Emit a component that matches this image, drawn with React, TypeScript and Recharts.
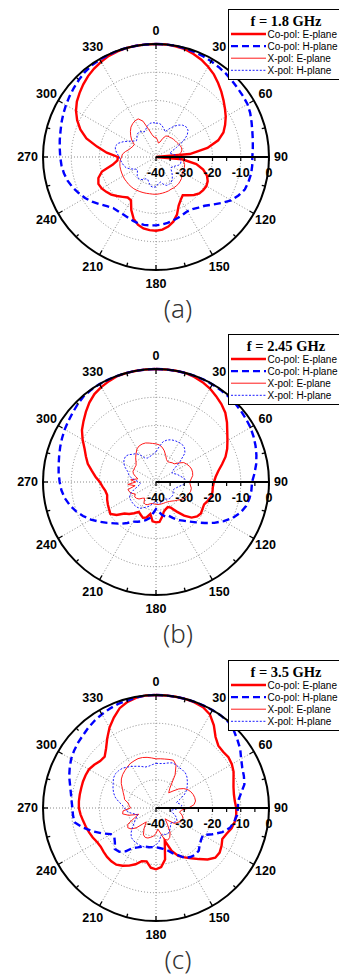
import React from 'react';
import { RadarChart, Radar, PolarGrid, PolarAngleAxis, PolarRadiusAxis } from 'recharts';

// measurement angles in degrees, clockwise from boresight
const ANGLES = [
  0, 5, 10, 15, 20, 25, 30, 35, 40, 45, 50, 55,
  60, 65, 70, 75, 80, 85, 90, 95, 100, 105, 110, 115,
  120, 125, 130, 135, 140, 145, 150, 155, 160, 165, 170, 175,
  180, 185, 190, 195, 200, 205, 210, 215, 220, 225, 230, 235,
  240, 245, 250, 255, 260, 265, 270, 275, 280, 285, 290, 295,
  300, 305, 310, 315, 320, 325, 330, 335, 340, 345, 350, 355,
];

const ANGLE_TICKS = [0, 15, 30, 45, 60, 75, 90, 105, 120, 135, 150, 165, 180, 195, 210, 225, 240, 255, 270, 285, 300, 315, 330, 345];
const SPOKES = [0, 30, 60, 90, 120, 150, 180, 210, 240, 270, 300, 330];
const RADIUS_TICKS = [-40, -30, -20, -10, 0];

const SERIES_NAMES = ['Co-pol: E-plane', 'Co-pol: H-plane', 'X-pol: E-plane', 'X-pol: H-plane'];
const FREQ_LABELS = ['f = 1.8 GHz', 'f = 2.45 GHz', 'f = 3.5 GHz'];
const CAPTIONS = ['(a)', '(b)', '(c)'];

// normalized gain, dB — 1.8 GHz
const CO_E_18 = [
  0, 0, -0.2, -0.5, -1.2, -2.0, -3.1, -4.3, -5.8, -7.3, -8.8, -10.2,
  -11.5, -13.0, -14.6, -17.2, -21.5, -28.0, -40, -30.7, -25.5, -22.7, -20.8, -19.8,
  -19.4, -19.6, -20.0, -21.0, -22.3, -23.5, -22.5, -21.0, -18.3, -16.3, -15.0, -14.2,
  -13.9, -14.0, -14.3, -15.2, -16.8, -19.3, -22.3, -22.5, -21.6, -20.5, -19.3, -18.5,
  -17.8, -17.5, -18.3, -20.2, -24.5, -26.3, -26.5, -22.5, -18.8, -14.5, -11.5, -9.2,
  -7.3, -5.8, -4.7, -3.6, -2.6, -1.8, -1.1, -0.5, -0.2, 0, 0, 0,
];
const CO_H_18 = [
  0, 0, 0, -0.2, -0.4, -0.6, -0.9, -1.2, -1.5, -1.9, -2.2, -2.4,
  -2.6, -3.2, -4.0, -4.7, -5.2, -5.6, -5.9, -5.8, -5.8, -6.1, -6.5, -7.8,
  -9.3, -11.6, -13.8, -15.6, -16.6, -17.5, -17.8, -17.5, -17.1, -16.7, -16.3, -16.0,
  -15.8, -15.7, -15.6, -15.7, -16.0, -16.4, -16.6, -16.6, -16.4, -15.4, -14.0, -12.4,
  -11.0, -9.8, -8.6, -7.6, -6.9, -6.4, -6.1, -5.8, -5.4, -5.0, -4.4, -3.8,
  -3.2, -2.6, -2.0, -1.4, -0.8, -0.4, -0.2, -0.1, 0, 0, 0, 0,
];
const X_E_18 = [
  -33, -34, -35, -34.5, -33, -31.8, -31.5, -31.5, -31.3, -31.2, -31.1, -31,
  -30.8, -30.5, -30.4, -30.5, -31, -32, -31, -30.5, -30, -29.5, -29.3, -29.2,
  -29.2, -28.8, -28.2, -27.9, -27.6, -27.5, -27.4, -27.4, -27.2, -27.1, -27.0, -26.9,
  -26.8, -26.8, -26.8, -26.7, -26.6, -26.5, -26.4, -26.3, -26.3, -26.3, -26.4, -26.4,
  -26.5, -26.6, -26.7, -26.8, -27, -27.3, -27.8, -28.1, -29, -30, -30.6, -31,
  -31.1, -29.5, -28.3, -27.2, -26.2, -25.6, -25.2, -25.1, -26.5, -29.8, -32, -33,
];
const X_H_18 = [
  -28, -28, -28.5, -29.5, -30.5, -29, -27.5, -26.2, -25.3, -24.9, -25.2, -26.5,
  -29, -32, -34, -35, -34, -33, -32, -31.5, -31, -31, -31.5, -32.5,
  -33, -33.5, -33, -32, -31, -30, -29.5, -29.2, -29.3, -30, -31, -30.5,
  -29.5, -29.2, -29.5, -30.5, -31.5, -31.5, -30.8, -30.3, -30.2, -30.6, -31.4, -32,
  -31.5, -30, -28.8, -28.2, -27.8, -27.4, -27, -26.2, -25.4, -25.1, -25.8, -27.2,
  -28.8, -30.2, -31, -30.5, -29.6, -29.3, -29.6, -30.2, -29.5, -28.5, -27.9, -27.8,
];

// 2.45 GHz
const CO_E_245 = [
  0, 0, 0, 0, -0.4, -1.0, -1.8, -2.9, -4.0, -5.3, -7.2, -9.2,
  -10.8, -12.2, -13.8, -15.8, -17.6, -18.8, -19.5, -19.8, -19.7, -19.8, -20.5, -21.2,
  -21.0, -20.6, -21.0, -22.2, -24.5, -27.2, -29.5, -30.2, -29.8, -29.2, -27.5, -25.8,
  -25.7, -26.0, -28.5, -27.0, -26.5, -27.2, -27.8, -26.5, -25.2, -24.2, -21.8, -20.3,
  -20.8, -21.2, -21.6, -22.1, -21.8, -21.0, -20.1, -18.5, -16.9, -15.0, -13.6, -12.1,
  -10.0, -8.0, -6.5, -4.9, -3.3, -2.0, -1.2, -0.6, -0.1, 0, 0, 0,
];
const CO_H_245 = [
  0, 0, 0, 0, 0, 0, -0.1, -0.2, -0.3, -0.5, -0.8, -1.1,
  -1.4, -1.9, -2.5, -3.2, -4.0, -5.0, -6.0, -6.1, -6.4, -7.0, -8.2, -10.0,
  -12.3, -14.8, -17.4, -19.8, -21.7, -23.3, -24.5, -26.0, -27.4, -27.4, -28.2, -29.6,
  -30.4, -29.0, -27.0, -26.0, -25.2, -24.5, -23.8, -22.3, -20.7, -19.3, -17.5, -15.5,
  -13.4, -11.5, -9.8, -8.4, -7.2, -6.4, -5.9, -5.4, -5.0, -4.5, -3.9, -3.3,
  -2.7, -2.2, -1.6, -0.9, -0.3, -0.1, 0, 0, 0, 0, 0, 0,
];
const X_E_245 = [
  -26.5, -26.8, -27.5, -28.6, -30.0, -31.2, -31.7, -31.5, -31.1, -30.9, -29.5, -28.0,
  -27.4, -26.9, -26.6, -26.6, -26.8, -27.5, -28.1, -27.8, -27.3, -27.3, -27.6, -27.9,
  -28.4, -29.2, -30.0, -30.6, -31.2, -31.6, -31.9, -32.0, -32.0, -32.0, -32.0, -32.0,
  -32.1, -32.2, -32.3, -32.0, -31.5, -31.2, -31.5, -33.0, -32.5, -31.5, -31.0, -30.8,
  -31.5, -30.5, -30.0, -29.7, -32.5, -30.0, -32.8, -31.0, -33.5, -32.5, -31.5, -31.0,
  -31.0, -30.9, -30.8, -30.0, -28.8, -27.7, -26.5, -25.9, -25.7, -25.7, -26.0, -26.3,
];
const X_H_245 = [
  -29.3, -27.5, -25.5, -24.6, -24.1, -23.9, -23.8, -23.8, -24.3, -25.5, -29.0, -32.5,
  -33.5, -33.0, -32.0, -31.4, -30.5, -29.6, -29.3, -30.2, -31.5, -32.4, -33.0, -33.3,
  -33.0, -32.6, -32.4, -32.4, -32.4, -32.6, -33.0, -33.2, -33.0, -32.6, -32.3, -32.5,
  -33.0, -32.8, -32.0, -31.2, -30.6, -30.0, -29.3, -28.9, -28.8, -28.8, -28.9, -29.0,
  -29.2, -30.0, -31.5, -33.0, -34.0, -34.5, -34.0, -32.5, -31.0, -30.0, -29.4, -28.0,
  -26.8, -26.2, -25.9, -26.3, -27.2, -27.7, -29.0, -30.6, -31.0, -30.8, -30.5, -30.0,
];

// 3.5 GHz
const CO_E_35 = [
  0, 0, 0, 0, -0.2, -0.6, -1.8, -4.3, -7.2, -8.8, -9.0, -8.7,
  -9.0, -9.7, -10.8, -11.6, -12.0, -12.0, -11.6, -11.5, -11.7, -12.3, -13.4, -14.1,
  -13.2, -12.5, -12.6, -14.2, -16.4, -18.3, -19.8, -21.3, -23.8, -28.0, -21.5, -19.0,
  -18.3, -18.8, -20.8, -20.5, -18.8, -17.5, -16.4, -15.5, -15.4, -15.5, -15.8, -16.1,
  -15.9, -15.3, -14.8, -14.3, -13.8, -13.2, -12.7, -12.6, -12.6, -12.6, -12.5, -12.5,
  -12.6, -13.3, -14.2, -14.3, -12.5, -9.9, -7.1, -4.7, -2.4, -1.1, -0.3, 0,
];
const CO_H_35 = [
  0, 0, 0, 0, 0, 0, 0, 0, -0.2, -1.1, -2.4, -3.6,
  -5.2, -6.3, -6.9, -7.6, -9.4, -10.8, -11.0, -11.2, -11.9, -12.9, -15.0, -18.0,
  -20.8, -20.5, -19.8, -18.6, -18.4, -18.8, -19.6, -21.6, -23.0, -24.5, -25.3, -25.8,
  -26.1, -26.1, -25.9, -25.8, -25.4, -24.6, -23.7, -21.3, -19.8, -19.4, -21.0, -22.0,
  -21.5, -18.8, -16.0, -13.2, -10.7, -10.5, -10.4, -10.0, -9.4, -8.5, -7.3, -6.3,
  -5.3, -4.6, -4.0, -3.5, -2.8, -2.2, -1.7, -1.2, -0.8, -0.6, -0.3, 0,
];
const X_E_35 = [
  -22.6, -22.5, -22.4, -22.2, -22.0, -23.2, -26.5, -31.5, -33.0, -31.5, -29.5, -28.0,
  -27.0, -26.4, -26.0, -25.8, -25.8, -26.5, -28.5, -31.0, -31.5, -30.5, -29.8, -29.7,
  -30.3, -31.0, -31.5, -33.5, -35.0, -33.0, -30.0, -28.5, -27.9, -28.5, -31.0, -32.5,
  -31.0, -30.0, -29.5, -29.0, -28.9, -29.5, -31.5, -34.0, -32.5, -30.0, -28.5, -27.8,
  -28.5, -31.5, -33.5, -30.0, -28.0, -28.3, -31.0, -30.5, -30.0, -28.5, -28.0, -27.2,
  -26.3, -25.0, -24.0, -23.3, -22.8, -22.3, -21.8, -21.6, -21.4, -21.5, -21.8, -22.2,
];
const X_H_35 = [
  -24.2, -24.2, -24.0, -23.5, -23.0, -23.2, -23.5, -23.6, -23.8, -24.5, -25.5, -26.5,
  -27.5, -29.0, -31.0, -32.5, -31.5, -30.8, -31.5, -33.5, -35.0, -34.0, -33.0, -32.0,
  -31.5, -31.5, -32.0, -32.5, -32.0, -31.2, -30.5, -30.0, -30.0, -30.5, -30.0, -28.0,
  -27.0, -26.2, -25.8, -25.6, -25.6, -25.6, -25.8, -26.0, -26.4, -27.5, -29.0, -30.5,
  -31.5, -32.5, -33.0, -32.0, -30.5, -29.5, -28.8, -28.0, -26.5, -25.0, -24.0, -23.2,
  -22.5, -21.6, -21.2, -21.3, -21.6, -22.3, -23.0, -23.7, -24.3, -25.0, -25.0, -24.6,
];

const PANELS = [
  [CO_E_18, CO_H_18, X_E_18, X_H_18],
  [CO_E_245, CO_H_245, X_E_245, X_H_245],
  [CO_E_35, CO_H_35, X_E_35, X_H_35],
];

const W = 339;
const PANEL_H = [325, 326, 326];
const CX = 156;
const CY = 157;
const R = 113;

const SANS = "'Liberation Sans', Arial, sans-serif";

const LINES = [
  { key: 'coE', stroke: '#ff0000', width: 2.4, dash: undefined },
  { key: 'coH', stroke: '#0000ff', width: 2.4, dash: '7 4' },
  { key: 'xE', stroke: '#ff1a1a', width: 1, dash: undefined },
  { key: 'xH', stroke: '#1a1aff', width: 1, dash: '2 1.6' },
];

const buildRows = (series: number[][]) =>
  ANGLES.map((angle, i) => ({
    angle,
    coE: series[0][i],
    coH: series[1][i],
    xE: series[2][i],
    xH: series[3][i],
  }));

// outer ring: inward ticks every 15°, labels every 30°
const AngleTick = (props: any) => {
  const deg = props.payload.value as number;
  const a = (deg * Math.PI) / 180;
  const ux = Math.sin(a);
  const uy = -Math.cos(a);
  const major = deg % 30 === 0;
  const len = major ? 5 : 3.5;
  const bx = CX + ux * R;
  const by = CY + uy * R;
  const side = Math.abs(ux) > 0.99;
  const d = side ? 5 : 13.5;
  const anchor = side ? (ux > 0 ? 'start' : 'end') : 'middle';
  return (
    <g>
      <line x1={bx} y1={by} x2={bx - ux * len} y2={by - uy * len} stroke="#000" strokeWidth={1.3} />
      {major && (
        <text
          x={bx + ux * d}
          y={by + uy * d}
          textAnchor={anchor}
          dominantBaseline="central"
          fontFamily={SANS}
          fontWeight="bold"
          fontSize={12.5}
          fill="#000"
        >
          {deg}
        </text>
      )}
    </g>
  );
};

// dB scale along the 90° spoke: ticks every 5 dB, labels every 10 dB
const RadiusTick = (props: any) => {
  const { x, y, payload } = props;
  const v = payload.value as number;
  const half = R / 8;
  return (
    <g>
      <line x1={x} y1={y} x2={x} y2={y + 4} stroke="#000" strokeWidth={1.2} />
      {v < 0 && <line x1={x + half} y1={y} x2={x + half} y2={y + 4} stroke="#000" strokeWidth={1.2} />}
      <text x={x} y={y + 20} textAnchor="middle" fontFamily={SANS} fontWeight="bold" fontSize={12.5} fill="#000">
        {v}
      </text>
    </g>
  );
};

const Overlay = ({ index }: { index: number }) => (
  <svg
    width={W}
    height={PANEL_H[index]}
    style={{ position: 'absolute', left: 0, top: 0, pointerEvents: 'none' }}
  >
    <rect x={228.5} y={9.5} width={120} height={70} fill="#fff" stroke="#000" strokeWidth={1} />
    <text
      x={286}
      y={26}
      textAnchor="middle"
      fontFamily="'Liberation Serif', 'Times New Roman', serif"
      fontWeight="bold"
      fontSize={14.5}
      fill="#000"
    >
      {FREQ_LABELS[index]}
    </text>
    {LINES.map((l, i) => (
      <g key={l.key}>
        <line
          x1={231}
          x2={266}
          y1={34 + 12.1 * i}
          y2={34 + 12.1 * i}
          stroke={l.stroke}
          strokeWidth={l.width}
          strokeDasharray={l.dash}
        />
        <text x={267.5} y={37.5 + 12.1 * i} fontFamily={SANS} fontSize={10} fill="#000">
          {SERIES_NAMES[i]}
        </text>
      </g>
    ))}
    <text
      x={178}
      y={318}
      textAnchor="middle"
      fontFamily="'Noto Sans', sans-serif"
      fontWeight={300}
      fontSize={26}
      fill="#333"
    >
      {CAPTIONS[index]}
    </text>
  </svg>
);

const Panel = ({ index }: { index: number }) => {
  const rows = buildRows(PANELS[index]);
  return (
    <div style={{ position: 'relative', width: W, height: PANEL_H[index] }}>
      <RadarChart
        width={W}
        height={300}
        data={rows}
        cx={CX}
        cy={CY}
        innerRadius={0}
        outerRadius={R}
        startAngle={90}
        endAngle={-270}
        margin={{ top: 0, right: 0, bottom: 0, left: 0 }}
      >
        <PolarGrid
          gridType="circle"
          polarAngles={SPOKES.map((b) => 90 - b)}
          stroke="#8a8a8a"
          strokeDasharray="1 2"
        />
        <PolarAngleAxis
          dataKey="angle"
          type="number"
          domain={[0, 360]}
          ticks={ANGLE_TICKS}
          tick={AngleTick}
          tickLine={false}
          axisLineType="circle"
          axisLine={{ stroke: '#000', strokeWidth: 2 }}
        />
        <PolarRadiusAxis
          angle={0}
          type="number"
          domain={[-40, 0]}
          ticks={RADIUS_TICKS}
          tick={RadiusTick}
          stroke="#000"
          axisLine={{ stroke: '#000', strokeWidth: 2 }}
        />
        {LINES.map((l) => (
          <Radar
            key={l.key}
            dataKey={l.key}
            stroke={l.stroke}
            strokeWidth={l.width}
            strokeDasharray={l.dash}
            fill="none"
            fillOpacity={0}
            dot={false}
            activeDot={false}
            isAnimationActive={false}
          />
        ))}
      </RadarChart>
      <Overlay index={index} />
    </div>
  );
}

export default function App() {
  return (
    <div style={{ width: W, height: 977, background: '#fff', overflow: 'hidden' }}>
      <style>{'body{margin:0;background:#fff}'}</style>
      <Panel index={0} />
      <Panel index={1} />
      <Panel index={2} />
    </div>
  );
}
